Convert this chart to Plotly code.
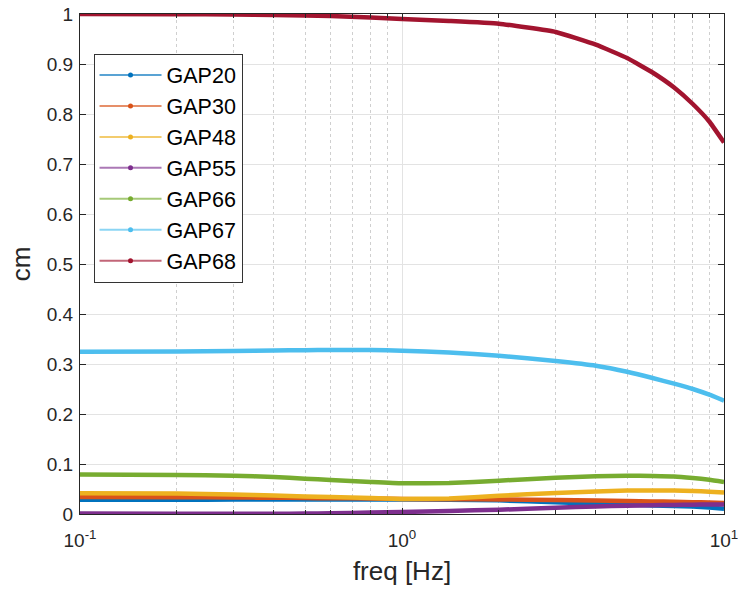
import plotly.graph_objects as go

freq = [0.1, 0.2, 0.3, 0.4, 0.5, 0.6, 0.8, 1.0, 1.4, 2.0, 3.0, 4.0, 5.0, 6.0, 7.0, 8.0, 9.0, 10.0]

gap20 = [0.0286, 0.0287, 0.0288, 0.0289, 0.0289, 0.029, 0.029, 0.029, 0.0285, 0.0273, 0.0233, 0.021, 0.019, 0.017, 0.016, 0.015, 0.013, 0.0106]
gap30 = [0.034, 0.0335, 0.033, 0.0325, 0.032, 0.0315, 0.031, 0.030, 0.0295, 0.029, 0.028, 0.027, 0.026, 0.025, 0.0245, 0.0235, 0.023, 0.022]
gap48 = [0.0413, 0.041, 0.039, 0.037, 0.035, 0.034, 0.032, 0.030, 0.031, 0.0366, 0.042, 0.045, 0.047, 0.047, 0.0468, 0.046, 0.0445, 0.043]
gap55 = [0.001, 0.0005, 0.0003, 0.0005, 0.001, 0.0015, 0.003, 0.004, 0.006, 0.0086, 0.0126, 0.015, 0.0166, 0.0176, 0.018, 0.0186, 0.019, 0.019]
gap66 = [0.079, 0.078, 0.0766, 0.074, 0.0706, 0.068, 0.064, 0.0613, 0.062, 0.0666, 0.0726, 0.0753, 0.0766, 0.076, 0.075, 0.072, 0.0686, 0.064]
gap67 = [0.3246, 0.325, 0.326, 0.327, 0.3275, 0.328, 0.328, 0.3266, 0.323, 0.3166, 0.306, 0.2966, 0.2846, 0.272, 0.2606, 0.25, 0.2386, 0.2266]
gap68 = [1.0, 0.9995, 0.999, 0.998, 0.997, 0.996, 0.993, 0.99, 0.986, 0.9806, 0.964, 0.9386, 0.912, 0.883, 0.853, 0.82, 0.785, 0.743]

names = ["GAP20", "GAP30", "GAP48", "GAP55", "GAP66", "GAP67", "GAP68"]
series = [gap20, gap30, gap48, gap55, gap66, gap67, gap68]
colors = ["#0072BD", "#D95319", "#EDB120", "#7E2F8E", "#77AC30", "#4DBEEE", "#A2142F"]

y_ticks = [0, 0.1, 0.2, 0.3, 0.4, 0.5, 0.6, 0.7, 0.8, 0.9, 1]
y_ticktext = ["0", "0.1", "0.2", "0.3", "0.4", "0.5", "0.6", "0.7", "0.8", "0.9", "1"]
x_ticks = [0.1, 1, 10]
x_ticktext = ["10<sup>-1</sup>", "10<sup>0</sup>", "10<sup>1</sup>"]
x_minor = [0.2, 0.3, 0.4, 0.5, 0.6, 0.7, 0.8, 0.9, 2, 3, 4, 5, 6, 7, 8, 9]


def rgba(hexc, a):
    h = hexc.lstrip("#")
    r, g, b = int(h[0:2], 16), int(h[2:4], 16), int(h[4:6], 16)
    return f"rgba({r},{g},{b},{a})"


fig = go.Figure()
for n, s, c in zip(names, series, colors):
    fig.add_trace(go.Scatter(x=freq, y=s, mode="lines", name=n, showlegend=False,
                             line=dict(color=c, width=4.5, shape="spline", smoothing=0.35)))
for n, c in zip(names, colors):
    fig.add_trace(go.Scatter(x=[None], y=[None], mode="lines+markers", name=n,
                             line=dict(color=rgba(c, 0.65), width=2), marker=dict(color=c, size=5)))

font = "Liberation Sans, Arial, Helvetica, sans-serif"
axcol = "#262626"
fig.update_layout(
    width=738, height=590,
    margin=dict(l=80, r=14, t=14, b=76),
    paper_bgcolor="white", plot_bgcolor="white",
    font=dict(family=font, color=axcol, size=19),
    showlegend=True,
    legend=dict(x=0.021, y=0.921, xanchor="left", yanchor="top",
                bgcolor="white", bordercolor="#333333", borderwidth=1,
                font=dict(size=21.5, color="black"), tracegroupgap=0,
                itemwidth=62),
    xaxis=dict(type="log", range=[-1, 1], tickvals=x_ticks, ticktext=x_ticktext,
               automargin=False, ticklabeloverflow="allow",
               showline=True, linecolor=axcol, linewidth=1, mirror="ticks",
               ticks="inside", ticklen=6, tickcolor=axcol,
               showgrid=True, gridcolor="#e3e3e3", gridwidth=1,
               zeroline=False, ticklabelstandoff=9,
               title=dict(text="freq [Hz]", font=dict(size=26, color=axcol), standoff=12),
               tickfont=dict(size=19, color=axcol),
               minor=dict(tickvals=x_minor,
                          ticks="inside", ticklen=4, tickcolor=axcol,
                          showgrid=True, gridcolor="#cfcfcf", griddash="dot", gridwidth=1)),
    yaxis=dict(range=[0, 1], tickvals=y_ticks, ticktext=y_ticktext,
               automargin=False, ticklabeloverflow="allow",
               showline=True, linecolor=axcol, linewidth=1, mirror="ticks",
               ticks="inside", ticklen=6, tickcolor=axcol,
               showgrid=True, gridcolor="#e3e3e3", gridwidth=1,
               zeroline=False, ticklabelstandoff=2,
               title=dict(text="cm", font=dict(size=26, color=axcol), standoff=8),
               tickfont=dict(size=19, color=axcol)),
)

fig.write_html("out.html")
